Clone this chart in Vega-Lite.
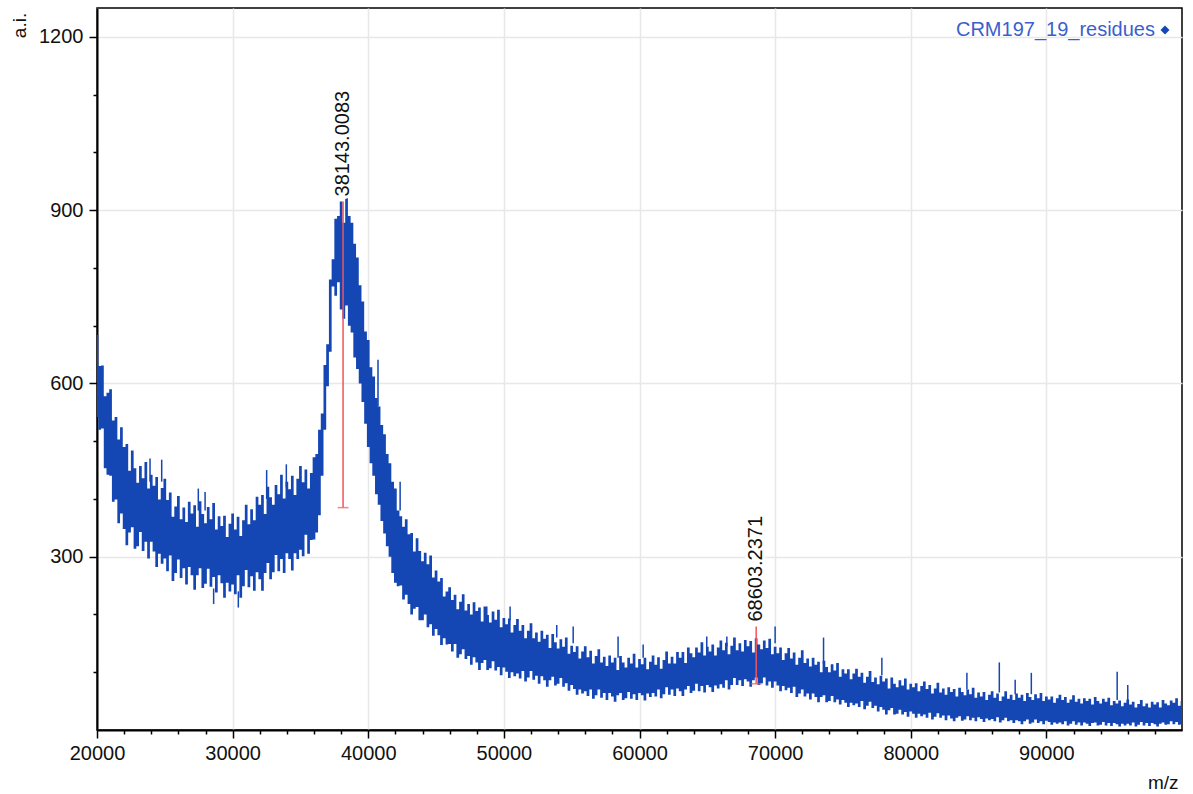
{
  "$schema": "https://vega.github.io/schema/vega-lite/v6.json",
  "width": 1085,
  "height": 722,
  "autosize": {"type": "none"},
  "padding": {"left": 97, "top": 8, "right": 11, "bottom": 64},
  "background": "white",
  "config": {
    "font": "Liberation Sans",
    "view": {"stroke": "#000", "strokeWidth": 1.5},
    "axis": {
      "labelFont": "Liberation Sans", "labelFontSize": 20, "labelColor": "#111",
      "titleFont": "Liberation Sans", "titleFontSize": 19, "titleColor": "#111", "titleFontWeight": "normal",
      "domainColor": "#000", "domainWidth": 2, "tickColor": "#000", "tickWidth": 1.5,
      "gridColor": "#e8e8e8", "gridWidth": 1.5
    }
  },
  "datasets": {
    "spec": [
      {"mz":20000,"hi":684,"lo":542},{"mz":20200,"hi":630,"lo":520},{"mz":20400,"hi":631,"lo":522},{"mz":20600,"hi":578,"lo":453},{"mz":20800,"hi":584,"lo":442},
      {"mz":21000,"hi":590,"lo":440},{"mz":21200,"hi":536,"lo":395},{"mz":21400,"hi":542,"lo":399},{"mz":21600,"hi":503,"lo":358},{"mz":21800,"hi":524,"lo":375},
      {"mz":22000,"hi":490,"lo":348},{"mz":22200,"hi":495,"lo":320},{"mz":22400,"hi":449,"lo":342},{"mz":22600,"hi":484,"lo":351},{"mz":22800,"hi":453,"lo":314},
      {"mz":23000,"hi":428,"lo":318},{"mz":23200,"hi":457,"lo":343},{"mz":23400,"hi":436,"lo":310},{"mz":23600,"hi":464,"lo":326},{"mz":23800,"hi":418,"lo":297},
      {"mz":24000,"hi":442,"lo":326},{"mz":24200,"hi":423,"lo":309},{"mz":24400,"hi":438,"lo":282},{"mz":24600,"hi":399,"lo":305},{"mz":24800,"hi":419,"lo":288},
      {"mz":25000,"hi":435,"lo":297},{"mz":25200,"hi":398,"lo":275},{"mz":25400,"hi":411,"lo":302},{"mz":25600,"hi":369,"lo":258},{"mz":25800,"hi":387,"lo":272},
      {"mz":26000,"hi":405,"lo":295},{"mz":26200,"hi":365,"lo":263},{"mz":26400,"hi":385,"lo":280},{"mz":26600,"hi":360,"lo":252},{"mz":26800,"hi":395,"lo":282},
      {"mz":27000,"hi":375,"lo":268},{"mz":27200,"hi":389,"lo":243},{"mz":27400,"hi":352,"lo":268},{"mz":27600,"hi":396,"lo":280},{"mz":27800,"hi":374,"lo":246},
      {"mz":28000,"hi":358,"lo":253},{"mz":28200,"hi":386,"lo":279},{"mz":28400,"hi":365,"lo":248},{"mz":28600,"hi":393,"lo":265},{"mz":28800,"hi":347,"lo":238},
      {"mz":29000,"hi":370,"lo":268},{"mz":29200,"hi":353,"lo":254},{"mz":29400,"hi":371,"lo":229},{"mz":29600,"hi":334,"lo":255},{"mz":29800,"hi":357,"lo":240},
      {"mz":30000,"hi":375,"lo":252},{"mz":30200,"hi":347,"lo":235},{"mz":30400,"hi":369,"lo":268},{"mz":30600,"hi":336,"lo":229},{"mz":30800,"hi":363,"lo":249},
      {"mz":31000,"hi":390,"lo":277},{"mz":31200,"hi":356,"lo":247},{"mz":31400,"hi":382,"lo":266},{"mz":31600,"hi":363,"lo":241},{"mz":31800,"hi":404,"lo":273},
      {"mz":32000,"hi":390,"lo":261},{"mz":32200,"hi":407,"lo":241},{"mz":32400,"hi":374,"lo":272},{"mz":32600,"hi":421,"lo":289},{"mz":32800,"hi":403,"lo":261},
      {"mz":33000,"hi":390,"lo":273},{"mz":33200,"hi":424,"lo":303},{"mz":33400,"hi":408,"lo":275},{"mz":33600,"hi":442,"lo":296},{"mz":33800,"hi":401,"lo":272},
      {"mz":34000,"hi":430,"lo":306},{"mz":34200,"hi":417,"lo":296},{"mz":34400,"hi":440,"lo":276},{"mz":34600,"hi":407,"lo":306},{"mz":34800,"hi":435,"lo":296},
      {"mz":35000,"hi":457,"lo":312},{"mz":35200,"hi":429,"lo":301},{"mz":35400,"hi":451,"lo":338},{"mz":35600,"hi":418,"lo":305},{"mz":35800,"hi":445,"lo":329},
      {"mz":36000,"hi":472,"lo":330},{"mz":36200,"hi":478,"lo":342},{"mz":36400,"hi":520,"lo":372},{"mz":36600,"hi":548,"lo":440},{"mz":36800,"hi":632,"lo":520},
      {"mz":37000,"hi":668,"lo":595},{"mz":37200,"hi":780,"lo":655},{"mz":37400,"hi":815,"lo":768},{"mz":37600,"hi":885,"lo":752},{"mz":37800,"hi":890,"lo":775},
      {"mz":38000,"hi":915,"lo":728},{"mz":38200,"hi":878,"lo":712},{"mz":38400,"hi":927,"lo":735},{"mz":38600,"hi":890,"lo":700},{"mz":38800,"hi":878,"lo":688},
      {"mz":39000,"hi":842,"lo":645},{"mz":39200,"hi":818,"lo":625},{"mz":39400,"hi":770,"lo":600},{"mz":39600,"hi":742,"lo":568},{"mz":39800,"hi":690,"lo":530},
      {"mz":40000,"hi":675,"lo":490},{"mz":40200,"hi":628,"lo":462},{"mz":40400,"hi":612,"lo":440},{"mz":40600,"hi":575,"lo":408},{"mz":40800,"hi":560,"lo":390},
      {"mz":41000,"hi":528,"lo":362},{"mz":41200,"hi":512,"lo":340},{"mz":41400,"hi":478,"lo":318},{"mz":41600,"hi":462,"lo":300},{"mz":41800,"hi":430,"lo":272},
      {"mz":42000,"hi":418,"lo":255},{"mz":42200,"hi":380,"lo":249},{"mz":42400,"hi":370,"lo":250},{"mz":42600,"hi":352,"lo":226},{"mz":42800,"hi":365,"lo":234},
      {"mz":43000,"hi":339,"lo":218},{"mz":43200,"hi":341,"lo":200},{"mz":43400,"hi":309,"lo":210},{"mz":43600,"hi":332,"lo":213},{"mz":43800,"hi":310,"lo":190},
      {"mz":44000,"hi":292,"lo":190},{"mz":44200,"hi":307,"lo":200},{"mz":44400,"hi":287,"lo":178},{"mz":44600,"hi":302,"lo":183},{"mz":44800,"hi":264,"lo":163},
      {"mz":45000,"hi":276,"lo":175},{"mz":45200,"hi":257,"lo":164},{"mz":45400,"hi":263,"lo":147},{"mz":45600,"hi":231,"lo":159},{"mz":45800,"hi":240,"lo":148},
      {"mz":46000,"hi":247,"lo":149},{"mz":46200,"hi":225,"lo":136},{"mz":46400,"hi":234,"lo":149},{"mz":46600,"hi":209,"lo":125},{"mz":46800,"hi":222,"lo":131},
      {"mz":47000,"hi":235,"lo":140},{"mz":47200,"hi":207,"lo":123},{"mz":47400,"hi":218,"lo":128},{"mz":47600,"hi":200,"lo":113},{"mz":47800,"hi":221,"lo":126},
      {"mz":48000,"hi":206,"lo":117},{"mz":48200,"hi":212,"lo":104},{"mz":48400,"hi":188,"lo":116},{"mz":48600,"hi":214,"lo":121},{"mz":48800,"hi":199,"lo":104},
      {"mz":49000,"hi":186,"lo":107},{"mz":49200,"hi":205,"lo":119},{"mz":49400,"hi":191,"lo":103},{"mz":49600,"hi":208,"lo":109},{"mz":49800,"hi":178,"lo":95},
      {"mz":50000,"hi":194,"lo":108},{"mz":50200,"hi":183,"lo":101},{"mz":50400,"hi":193,"lo":90},{"mz":50600,"hi":169,"lo":100},{"mz":50800,"hi":182,"lo":93},
      {"mz":51000,"hi":192,"lo":98},{"mz":51200,"hi":172,"lo":89},{"mz":51400,"hi":182,"lo":102},{"mz":51600,"hi":159,"lo":84},{"mz":51800,"hi":172,"lo":91},
      {"mz":52000,"hi":185,"lo":102},{"mz":52200,"hi":159,"lo":87},{"mz":52400,"hi":169,"lo":94},{"mz":52600,"hi":153,"lo":80},{"mz":52800,"hi":172,"lo":93},
      {"mz":53000,"hi":158,"lo":86},{"mz":53200,"hi":165,"lo":75},{"mz":53400,"hi":142,"lo":86},{"mz":53600,"hi":166,"lo":92},{"mz":53800,"hi":152,"lo":77},
      {"mz":54000,"hi":141,"lo":80},{"mz":54200,"hi":157,"lo":90},{"mz":54400,"hi":144,"lo":75},{"mz":54600,"hi":160,"lo":81},{"mz":54800,"hi":132,"lo":68},
      {"mz":55000,"hi":146,"lo":78},{"mz":55200,"hi":135,"lo":71},{"mz":55400,"hi":145,"lo":61},{"mz":55600,"hi":124,"lo":70},{"mz":55800,"hi":136,"lo":63},
      {"mz":56000,"hi":145,"lo":67},{"mz":56200,"hi":126,"lo":59},{"mz":56400,"hi":137,"lo":70},{"mz":56600,"hi":115,"lo":54},{"mz":56800,"hi":128,"lo":60},
      {"mz":57000,"hi":140,"lo":70},{"mz":57200,"hi":117,"lo":56},{"mz":57400,"hi":127,"lo":64},{"mz":57600,"hi":111,"lo":52},{"mz":57800,"hi":129,"lo":64},
      {"mz":58000,"hi":117,"lo":58},{"mz":58200,"hi":125,"lo":49},{"mz":58400,"hi":104,"lo":60},{"mz":58600,"hi":128,"lo":64},{"mz":58800,"hi":117,"lo":52},
      {"mz":59000,"hi":108,"lo":55},{"mz":59200,"hi":125,"lo":66},{"mz":59400,"hi":115,"lo":54},{"mz":59600,"hi":132,"lo":62},{"mz":59800,"hi":108,"lo":52},
      {"mz":60000,"hi":123,"lo":64},{"mz":60200,"hi":114,"lo":60},{"mz":60400,"hi":125,"lo":51},{"mz":60600,"hi":105,"lo":63},{"mz":60800,"hi":118,"lo":57},
      {"mz":61000,"hi":129,"lo":64},{"mz":61200,"hi":113,"lo":58},{"mz":61400,"hi":126,"lo":70},{"mz":61600,"hi":106,"lo":55},{"mz":61800,"hi":121,"lo":62},
      {"mz":62000,"hi":136,"lo":74},{"mz":62200,"hi":115,"lo":61},{"mz":62400,"hi":127,"lo":70},{"mz":62600,"hi":115,"lo":59},{"mz":62800,"hi":135,"lo":72},
      {"mz":63000,"hi":125,"lo":67},{"mz":63200,"hi":135,"lo":59},{"mz":63400,"hi":116,"lo":70},{"mz":63600,"hi":143,"lo":76},{"mz":63800,"hi":133,"lo":64},
      {"mz":64000,"hi":126,"lo":68},{"mz":64200,"hi":143,"lo":80},{"mz":64400,"hi":134,"lo":67},{"mz":64600,"hi":152,"lo":76},{"mz":64800,"hi":129,"lo":65},
      {"mz":65000,"hi":144,"lo":78},{"mz":65200,"hi":136,"lo":74},{"mz":65400,"hi":148,"lo":66},{"mz":65600,"hi":129,"lo":77},{"mz":65800,"hi":143,"lo":72},
      {"mz":66000,"hi":155,"lo":79},{"mz":66200,"hi":138,"lo":73},{"mz":66400,"hi":151,"lo":86},{"mz":66600,"hi":131,"lo":70},{"mz":66800,"hi":146,"lo":78},
      {"mz":67000,"hi":160,"lo":90},{"mz":67200,"hi":138,"lo":78},{"mz":67400,"hi":150,"lo":86},{"mz":67600,"hi":136,"lo":76},{"mz":67800,"hi":156,"lo":88},
      {"mz":68000,"hi":145,"lo":84},{"mz":68200,"hi":154,"lo":75},{"mz":68400,"hi":134,"lo":86},{"mz":68600,"hi":159,"lo":91},{"mz":68800,"hi":148,"lo":78},
      {"mz":69000,"hi":140,"lo":81},{"mz":69200,"hi":155,"lo":91},{"mz":69400,"hi":142,"lo":77},{"mz":69600,"hi":158,"lo":84},{"mz":69800,"hi":131,"lo":73},
      {"mz":70000,"hi":144,"lo":84},{"mz":70200,"hi":133,"lo":77},{"mz":70400,"hi":143,"lo":67},{"mz":70600,"hi":121,"lo":76},{"mz":70800,"hi":133,"lo":69},
      {"mz":71000,"hi":142,"lo":73},{"mz":71200,"hi":124,"lo":64},{"mz":71400,"hi":134,"lo":75},{"mz":71600,"hi":113,"lo":57},{"mz":71800,"hi":125,"lo":63},
      {"mz":72000,"hi":138,"lo":70},{"mz":72200,"hi":116,"lo":58},{"mz":72400,"hi":124,"lo":63},{"mz":72600,"hi":110,"lo":53},{"mz":72800,"hi":125,"lo":63},
      {"mz":73000,"hi":113,"lo":57},{"mz":73200,"hi":118,"lo":48},{"mz":73400,"hi":100,"lo":57},{"mz":73600,"hi":120,"lo":60},{"mz":73800,"hi":109,"lo":48},
      {"mz":74000,"hi":100,"lo":50},{"mz":74200,"hi":114,"lo":59},{"mz":74400,"hi":103,"lo":48},{"mz":74600,"hi":116,"lo":53},{"mz":74800,"hi":92,"lo":44},
      {"mz":75000,"hi":105,"lo":52},{"mz":75200,"hi":98,"lo":47},{"mz":75400,"hi":105,"lo":40},{"mz":75600,"hi":88,"lo":47},{"mz":75800,"hi":98,"lo":43},
      {"mz":76000,"hi":106,"lo":46},{"mz":76200,"hi":92,"lo":40},{"mz":76400,"hi":99,"lo":50},{"mz":76600,"hi":82,"lo":36},{"mz":76800,"hi":92,"lo":42},
      {"mz":77000,"hi":102,"lo":49},{"mz":77200,"hi":83,"lo":38},{"mz":77400,"hi":91,"lo":42},{"mz":77600,"hi":79,"lo":32},{"mz":77800,"hi":94,"lo":40},
      {"mz":78000,"hi":84,"lo":35},{"mz":78200,"hi":89,"lo":27},{"mz":78400,"hi":72,"lo":34},{"mz":78600,"hi":91,"lo":38},{"mz":78800,"hi":80,"lo":27},
      {"mz":79000,"hi":74,"lo":28},{"mz":79200,"hi":86,"lo":35},{"mz":79400,"hi":77,"lo":27},{"mz":79600,"hi":89,"lo":31},{"mz":79800,"hi":70,"lo":23},
      {"mz":80000,"hi":80,"lo":32},{"mz":80200,"hi":74,"lo":28},{"mz":80400,"hi":81,"lo":21},{"mz":80600,"hi":67,"lo":28},{"mz":80800,"hi":76,"lo":24},
      {"mz":81000,"hi":84,"lo":27},{"mz":81200,"hi":71,"lo":21},{"mz":81400,"hi":78,"lo":30},{"mz":81600,"hi":63,"lo":18},{"mz":81800,"hi":72,"lo":23},
      {"mz":82000,"hi":82,"lo":29},{"mz":82200,"hi":65,"lo":21},{"mz":82400,"hi":72,"lo":25},{"mz":82600,"hi":61,"lo":17},{"mz":82800,"hi":74,"lo":25},
      {"mz":83000,"hi":66,"lo":20},{"mz":83200,"hi":71,"lo":15},{"mz":83400,"hi":58,"lo":21},{"mz":83600,"hi":73,"lo":24},{"mz":83800,"hi":66,"lo":16},
      {"mz":84000,"hi":60,"lo":18},{"mz":84200,"hi":70,"lo":24},{"mz":84400,"hi":62,"lo":17},{"mz":84600,"hi":73,"lo":21},{"mz":84800,"hi":56,"lo":15},
      {"mz":85000,"hi":65,"lo":22},{"mz":85200,"hi":58,"lo":19},{"mz":85400,"hi":66,"lo":14},{"mz":85600,"hi":52,"lo":20},{"mz":85800,"hi":61,"lo":17},
      {"mz":86000,"hi":67,"lo":19},{"mz":86200,"hi":56,"lo":15},{"mz":86400,"hi":63,"lo":22},{"mz":86600,"hi":50,"lo":13},{"mz":86800,"hi":58,"lo":17},
      {"mz":87000,"hi":67,"lo":21},{"mz":87200,"hi":54,"lo":15},{"mz":87400,"hi":61,"lo":17},{"mz":87600,"hi":52,"lo":12},{"mz":87800,"hi":63,"lo":17},
      {"mz":88000,"hi":56,"lo":15},{"mz":88200,"hi":61,"lo":10},{"mz":88400,"hi":50,"lo":15},{"mz":88600,"hi":64,"lo":18},{"mz":88800,"hi":57,"lo":11},
      {"mz":89000,"hi":52,"lo":13},{"mz":89200,"hi":62,"lo":18},{"mz":89400,"hi":55,"lo":12},{"mz":89600,"hi":64,"lo":15},{"mz":89800,"hi":50,"lo":10},
      {"mz":90000,"hi":58,"lo":16},{"mz":90200,"hi":53,"lo":14},{"mz":90400,"hi":58,"lo":9},{"mz":90600,"hi":47,"lo":13},{"mz":90800,"hi":55,"lo":11},
      {"mz":91000,"hi":61,"lo":13},{"mz":91200,"hi":52,"lo":10},{"mz":91400,"hi":57,"lo":15},{"mz":91600,"hi":47,"lo":8},{"mz":91800,"hi":53,"lo":11},
      {"mz":92000,"hi":60,"lo":15},{"mz":92200,"hi":49,"lo":9},{"mz":92400,"hi":54,"lo":13},{"mz":92600,"hi":46,"lo":8},{"mz":92800,"hi":55,"lo":13},
      {"mz":93000,"hi":50,"lo":11},{"mz":93200,"hi":54,"lo":7},{"mz":93400,"hi":44,"lo":12},{"mz":93600,"hi":57,"lo":13},{"mz":93800,"hi":50,"lo":8},
      {"mz":94000,"hi":46,"lo":9},{"mz":94200,"hi":54,"lo":14},{"mz":94400,"hi":49,"lo":8},{"mz":94600,"hi":56,"lo":12},{"mz":94800,"hi":43,"lo":7},
      {"mz":95000,"hi":50,"lo":12},{"mz":95200,"hi":46,"lo":10},{"mz":95400,"hi":51,"lo":6},{"mz":95600,"hi":41,"lo":11},{"mz":95800,"hi":47,"lo":8},
      {"mz":96000,"hi":53,"lo":11},{"mz":96200,"hi":44,"lo":8},{"mz":96400,"hi":49,"lo":13},{"mz":96600,"hi":39,"lo":6},{"mz":96800,"hi":45,"lo":9},
      {"mz":97000,"hi":52,"lo":14},{"mz":97200,"hi":41,"lo":8},{"mz":97400,"hi":46,"lo":12},{"mz":97600,"hi":39,"lo":7},{"mz":97800,"hi":49,"lo":12},
      {"mz":98000,"hi":44,"lo":10},{"mz":98200,"hi":48,"lo":6},{"mz":98400,"hi":39,"lo":11},{"mz":98600,"hi":52,"lo":13},{"mz":98800,"hi":46,"lo":9},
      {"mz":99000,"hi":43,"lo":10},{"mz":99200,"hi":51,"lo":15},{"mz":99400,"hi":47,"lo":10},{"mz":99600,"hi":55,"lo":14},{"mz":99800,"hi":42,"lo":9},
      {"mz":100000,"hi":50,"lo":10}
    ],
    "spikes": [
      {"mz":23910,"top":470,"base":430},{"mz":24770,"top":468,"base":430},{"mz":27470,"top":418,"base":380},{"mz":27970,"top":412,"base":380},
      {"mz":32510,"top":450,"base":400},{"mz":33960,"top":460,"base":420},{"mz":40720,"top":641,"base":560},{"mz":42350,"top":430,"base":380},
      {"mz":48740,"top":214,"base":190},{"mz":50460,"top":214,"base":190},{"mz":53900,"top":182,"base":160},{"mz":55110,"top":179,"base":150},
      {"mz":58420,"top":162,"base":125},{"mz":60270,"top":148,"base":125},{"mz":64960,"top":162,"base":140},{"mz":66440,"top":162,"base":145},
      {"mz":70000,"top":179,"base":150},{"mz":73570,"top":160,"base":115},{"mz":77870,"top":125,"base":95},{"mz":84140,"top":99,"base":70},
      {"mz":86530,"top":117,"base":65},{"mz":87700,"top":87,"base":62},{"mz":88890,"top":99,"base":62},{"mz":95220,"top":101,"base":52},
      {"mz":96000,"top":78,"base":48},
      {"mz":28600,"top":245,"base":218},{"mz":30420,"top":240,"base":212}
    ],
    "peaks": [
      {"mz":38143.0083,"top":915,"base":385,"label":"38143.0083"},
      {"mz":68603.2371,"top":179,"base":80,"label":"68603.2371"}
    ]
  },
  "layer": [
    {
      "data": {"name": "spec"},
      "mark": {"type": "area", "interpolate": "step", "opacity": 1},
      "encoding": {
        "x": {
          "field": "mz", "type": "quantitative",
          "scale": {"domain": [20000, 100000], "nice": false, "zero": false},
          "axis": {
            "title": "m/z", "titleAnchor": "end", "titleAlign": "right", "titleBaseline": "alphabetic",
            "titleX": 1081, "titleY": 58,
            "tickCount": 100,
            "values": [20000,22000,24000,26000,28000,30000,32000,34000,36000,38000,40000,42000,44000,46000,48000,50000,52000,54000,56000,58000,60000,62000,64000,66000,68000,70000,72000,74000,76000,78000,80000,82000,84000,86000,88000,90000,92000,94000,96000,98000],
            "labelExpr": "datum.value % 10000 === 0 ? format(datum.value, 'd') : ''",
            "labelFlush": false, "labelOverlap": false, "labelBound": false, "labelPadding": 5,
            "tickSize": {"condition": {"test": "datum.value % 10000 === 0", "value": 8}, "value": 4},
            "gridOpacity": {"condition": {"test": "datum.value % 10000 === 0", "value": 1}, "value": 0}
          }
        },
        "y": {
          "field": "hi", "type": "quantitative",
          "scale": {"domain": [0, 1250], "nice": false},
          "axis": {
            "title": "a.i.", "titleAngle": 270, "titleAlign": "center", "titleBaseline": "middle",
            "titleX": -78, "titleY": 17,
            "tickCount": 100,
            "values": [100,200,300,400,500,600,700,800,900,1000,1100,1200],
            "labelExpr": "datum.value % 300 === 0 ? format(datum.value, 'd') : ''",
            "labelOverlap": false, "labelPadding": 6,
            "tickSize": {"condition": {"test": "datum.value % 300 === 0", "value": 8}, "value": 4},
            "gridOpacity": {"condition": {"test": "datum.value % 300 === 0", "value": 1}, "value": 0}
          }
        },
        "y2": {"field": "lo"},
        "color": {
          "datum": "CRM197_19_residues",
          "scale": {"range": ["#1446b4"]},
          "legend": {
            "title": null, "orient": "top-right", "offset": 12, "padding": 0,
            "symbolType": "diamond", "symbolSize": 80, "symbolFillColor": "#1c3d9e", "symbolStrokeWidth": 0,
            "labelFont": "Liberation Sans", "labelFontSize": 20, "labelColor": "#3a5fcd",
            "labelAlign": "right", "labelOffset": -20, "labelLimit": 400
          }
        }
      }
    },
    {
      "data": {"name": "spikes"},
      "mark": {"type": "rule", "color": "#1446b4", "strokeWidth": 1.5},
      "encoding": {
        "x": {"field": "mz", "type": "quantitative"},
        "y": {"field": "top", "type": "quantitative"},
        "y2": {"field": "base"}
      }
    },
    {
      "data": {"name": "peaks"},
      "mark": {"type": "rule", "color": "#f2545b", "strokeWidth": 1.5},
      "encoding": {
        "x": {"field": "mz", "type": "quantitative"},
        "y": {"field": "top", "type": "quantitative"},
        "y2": {"field": "base"}
      }
    },
    {
      "data": {"name": "peaks"},
      "mark": {"type": "tick", "orient": "horizontal", "color": "#f2545b", "size": 11, "thickness": 1.5},
      "encoding": {
        "x": {"field": "mz", "type": "quantitative"},
        "y": {"field": "base", "type": "quantitative"}
      }
    },
    {
      "data": {"name": "peaks"},
      "mark": {"type": "text", "angle": 270, "align": "left", "baseline": "middle", "dx": 5, "font": "Liberation Sans", "fontSize": 20, "color": "white", "stroke": "white", "strokeWidth": 6},
      "encoding": {
        "x": {"field": "mz", "type": "quantitative"},
        "y": {"field": "top", "type": "quantitative"},
        "text": {"field": "label"}
      }
    },
    {
      "data": {"name": "peaks"},
      "mark": {"type": "text", "angle": 270, "align": "left", "baseline": "middle", "dx": 5, "font": "Liberation Sans", "fontSize": 20, "color": "#111"},
      "encoding": {
        "x": {"field": "mz", "type": "quantitative"},
        "y": {"field": "top", "type": "quantitative"},
        "text": {"field": "label"}
      }
    }
  ]
}
